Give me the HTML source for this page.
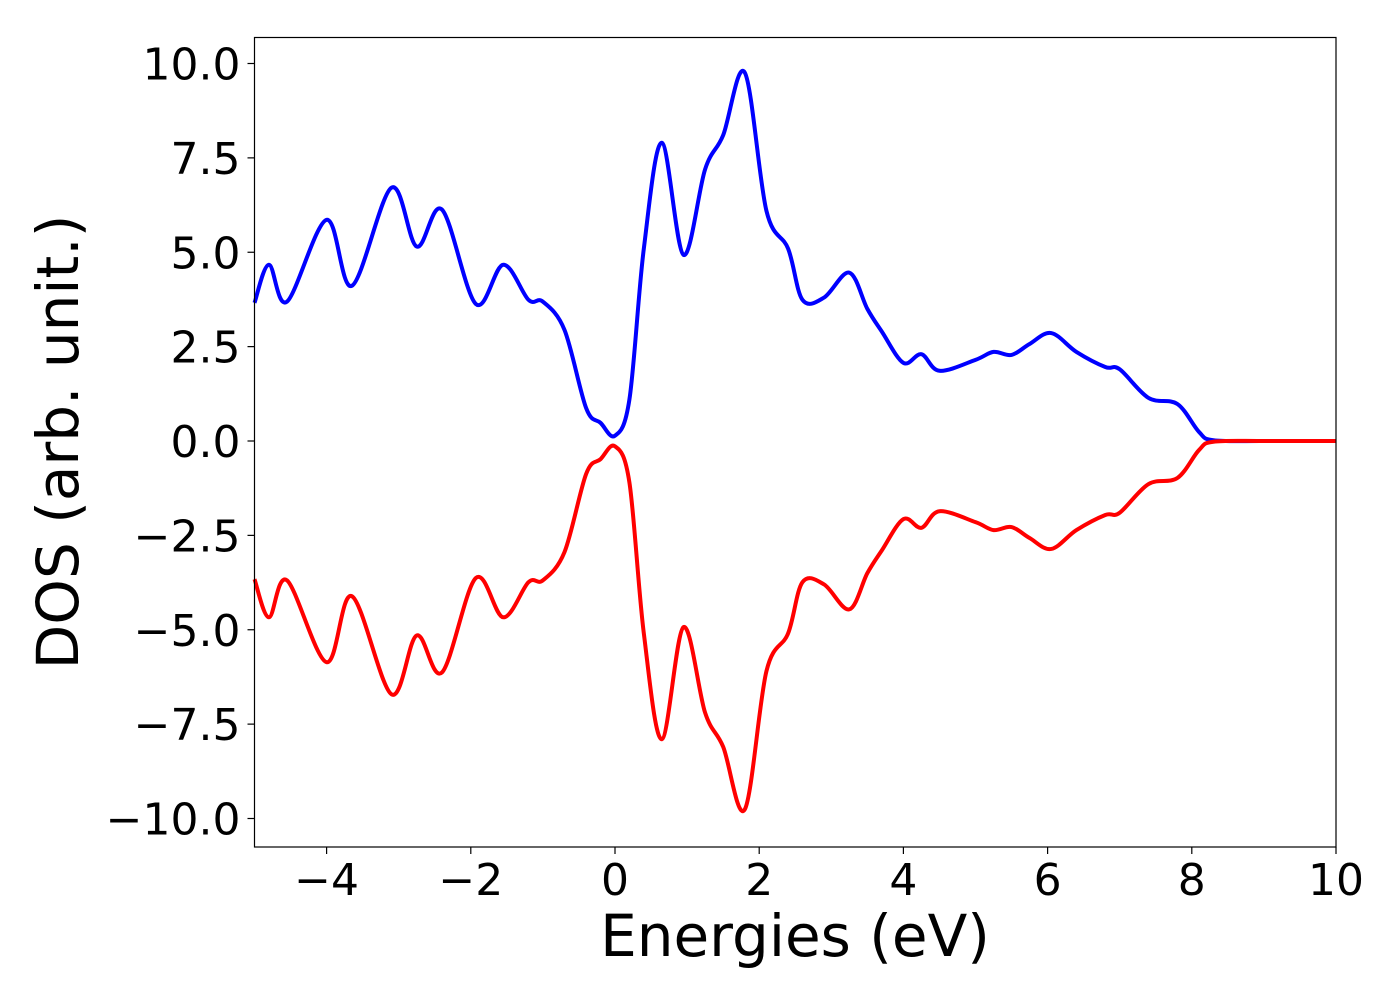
<!DOCTYPE html>
<html><head><meta charset="utf-8"><style>
html,body{margin:0;padding:0;background:#fff;}
svg text{font-family:"DejaVu Sans","Liberation Sans",sans-serif;fill:#000;}
</style></head><body>
<svg id="chart" width="1400" height="1000" viewBox="0 0 1400 1000" xmlns="http://www.w3.org/2000/svg">
<g id="axes"></g>
<g id="series"></g>
<rect x="254.5" y="37.5" width="1081.5" height="809.5" fill="none" stroke="#000" stroke-width="1.2"/>
<text x="795" y="956" font-size="58" text-anchor="middle">Energies (eV)</text>
<text transform="translate(78,442) rotate(-90)" font-size="58" text-anchor="middle">DOS (arb. unit.)</text>
</svg>
<script>
const energies = [-5,-4.8,-4.55,-4,-3.65,-3.1,-2.75,-2.4,-1.93,-1.55,-1.2,-1.0,-0.7,-0.4,-0.2,0,0.2,0.4,0.65,0.95,1.25,1.5,1.8,2.1,2.4,2.6,2.9,3.25,3.5,3.7,4.0,4.25,4.5,5.0,5.25,5.5,5.75,6.05,6.4,6.8,7.0,7.4,7.8,8.1,8.3,9,10];
const dosUp = [3.66,4.67,3.69,5.86,4.11,6.71,5.15,6.13,3.63,4.67,3.74,3.69,2.94,0.87,0.48,0.14,1.1,5.1,7.9,4.93,7.2,8.1,9.76,6.1,5.1,3.74,3.8,4.46,3.5,2.9,2.07,2.3,1.86,2.15,2.36,2.28,2.57,2.86,2.36,1.96,1.9,1.14,0.98,0.24,0.02,0,0];
const dosDown = [-3.66,-4.67,-3.69,-5.86,-4.11,-6.71,-5.15,-6.13,-3.63,-4.67,-3.74,-3.69,-2.94,-0.87,-0.48,-0.14,-1.1,-5.1,-7.9,-4.93,-7.2,-8.1,-9.76,-6.1,-5.1,-3.74,-3.8,-4.46,-3.5,-2.9,-2.07,-2.3,-1.86,-2.15,-2.36,-2.28,-2.57,-2.86,-2.36,-1.96,-1.9,-1.14,-0.98,-0.24,-0.02,0,0];
const xTicks = [-4,-2,0,2,4,6,8,10];
const xTickLabels = ["\u22124","\u22122","0","2","4","6","8","10"];
const yTicks = [-10,-7.5,-5,-2.5,0,2.5,5,7.5,10];
const yTickLabels = ["\u221210.0","\u22127.5","\u22125.0","\u22122.5","0.0","2.5","5.0","7.5","10.0"];

const X0=254.5, X1=1336, Y0=847, Y1=37.5;
const xmin=-5,xmax=10;
function sx(v){return X0+(v-xmin)/(xmax-xmin)*(X1-X0);}
function sy(v){return 441-v*37.75;}
const NS="http://www.w3.org/2000/svg";
const axes=document.getElementById('axes');
xTicks.forEach((t,i)=>{
  const l=document.createElementNS(NS,'line');
  
  
  l.setAttribute('x1',sx(t));l.setAttribute('x2',sx(t));l.setAttribute('y1',Y0);l.setAttribute('y2',Y0+7);
  l.setAttribute('stroke','#000');l.setAttribute('stroke-width','1.2');axes.appendChild(l);
  const tx=document.createElementNS(NS,'text');
  
  
  tx.setAttribute('x',sx(t));tx.setAttribute('y',Y0+48);tx.setAttribute('font-size','44');tx.setAttribute('text-anchor','middle');
  tx.textContent=xTickLabels[i];axes.appendChild(tx);
});
yTicks.forEach((t,i)=>{
  const l=document.createElementNS(NS,'line');
  
  
  l.setAttribute('x1',X0-7);l.setAttribute('x2',X0);l.setAttribute('y1',sy(t));l.setAttribute('y2',sy(t));
  l.setAttribute('stroke','#000');l.setAttribute('stroke-width','1.2');axes.appendChild(l);
  const tx=document.createElementNS(NS,'text');
  
  
  tx.setAttribute('x',X0-14);tx.setAttribute('y',sy(t)+16);tx.setAttribute('font-size','44');tx.setAttribute('text-anchor','end');
  tx.textContent=yTickLabels[i];axes.appendChild(tx);
});
function smoothPath(xs,ys){
  const p=xs.map((x,i)=>[sx(x),sy(ys[i])]);
  let d='M'+p[0][0]+','+p[0][1];
  for(let i=0;i<p.length-1;i++){
    const a=p[Math.max(0,i-1)],b=p[i],c=p[i+1],e=p[Math.min(p.length-1,i+2)];
    const c1=[b[0]+(c[0]-a[0])/6,b[1]+(c[1]-a[1])/6];
    const c2=[c[0]-(e[0]-b[0])/6,c[1]-(e[1]-b[1])/6];
    d+=' C'+c1[0]+','+c1[1]+' '+c2[0]+','+c2[1]+' '+c[0]+','+c[1];
  }
  return d;
}
const series=document.getElementById('series');
const up=document.createElementNS(NS,'path');


up.setAttribute('d',smoothPath(energies,dosUp));up.setAttribute('fill','none');up.setAttribute('stroke','#0000ff');up.setAttribute('stroke-width','4');
series.appendChild(up);
const dn=document.createElementNS(NS,'path');


dn.setAttribute('d',smoothPath(energies,dosDown));dn.setAttribute('fill','none');dn.setAttribute('stroke','#ff0000');dn.setAttribute('stroke-width','4');
series.appendChild(dn);
</script>
</body></html>
